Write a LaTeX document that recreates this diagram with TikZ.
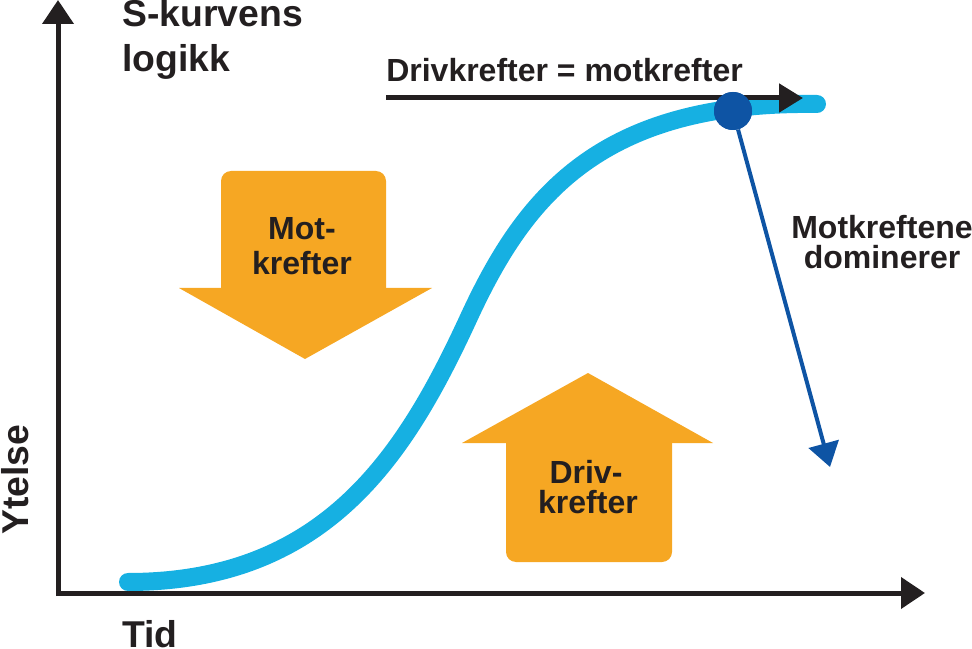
\documentclass[tikz,border=0pt]{standalone}
\usepackage{fontspec}
\setmainfont{Liberation Sans}
\usetikzlibrary{arrows.meta}
\definecolor{ink}{RGB}{35,31,32}
\definecolor{orangec}{RGB}{246,167,35}
\definecolor{curveblue}{RGB}{22,176,226}
\definecolor{dotblue}{RGB}{14,84,164}
\tikzset{
  axisline/.style={draw=ink, line width=3.75pt, -{Triangle[length=18pt,width=23pt]}},
  orangebox/.style={fill=orangec, rounded corners=7.5pt},
  orangehead/.style={fill=orangec},
  scurve/.style={draw=curveblue, line width=13.5pt, line cap=round},
  balance/.style={draw=ink, line width=3.75pt, -{Triangle[length=18pt,width=21pt]}},
  domline/.style={draw=dotblue, line width=3pt, -{Triangle[length=18pt,width=23pt]}},
  bigdot/.style={circle, fill=dotblue, minimum size=28.5pt, inner sep=0pt},
  bigtxt/.style={inner sep=0pt, text=ink, font=\fontsize{28}{34}\selectfont\bfseries},
  midtxt/.style={inner sep=0pt, text=ink, font=\fontsize{24}{26}\selectfont\bfseries}
}
\begin{document}
\begin{tikzpicture}[x=0.75pt, y=-0.75pt]
\useasboundingbox (0,0) rectangle (972,649);
% axes
\coordinate (O) at (58,593);
\coordinate (ytop) at (58,0);
\coordinate (xend) at (925,593);
\coordinate (ybot) at (58,596);
\coordinate (xbeg) at (56,593);
\draw[axisline] (ybot) -- (ytop);
\draw[axisline] (xbeg) -- (xend);
% orange down arrow (Mot-krefter)
\fill[orangebox] (221,171) rectangle (386,300);
\coordinate (dl) at (179,288);
\coordinate (dr) at (432,288);
\coordinate (dt) at (305,359);
\fill[orangehead] (dl) -- (dr) -- (dt) -- cycle;
% orange up arrow (Driv-krefter)
\fill[orangebox] (506,430) rectangle (672,562);
\coordinate (ul) at (462,443);
\coordinate (ur) at (713,443);
\coordinate (ut) at (588,373);
\fill[orangehead] (ul) -- (ur) -- (ut) -- cycle;
% S-curve
\coordinate (c0) at (128,582);
\coordinate (c1) at (470,315);
\coordinate (c2) at (817,104);
\draw[scurve] (c0) .. controls (328,582) and (407,452) .. (c1) .. controls (525,197) and (600,101) .. (c2);
% balance arrow
\coordinate (bstart) at (386,98);
\coordinate (bend) at (803,98);
\draw[balance] (bstart) -- (bend);
% dominance
\node[bigdot] (pt) at (733,111) {};
\coordinate (dend) at (830,467);
\draw[domline] (pt) -- (dend);
\node[bigdot] (pt2) at (pt) {};
% texts
\node[bigtxt, anchor=base west] (t1) at (122,27) {S-kurvens};
\node[bigtxt, anchor=base west] (t2) at (122,72) {logikk};
\node[midtxt, anchor=base west] (bal) at (386,82) {Drivkrefter = motkrefter};
\node[midtxt, anchor=base] (m1) at (302,240) {Mot-};
\node[midtxt, anchor=base] (m2) at (302,275) {krefter};
\node[midtxt, anchor=base] (d1) at (586,483) {Driv-};
\node[midtxt, anchor=base] (d2) at (588,513) {krefter};
\node[midtxt, anchor=base] (k1) at (882,239) {Motkreftene};
\node[midtxt, anchor=base] (k2) at (882,269) {dominerer};
\node[bigtxt, anchor=base west] (tid) at (122,647) {Tid};
\node[bigtxt, anchor=base west, rotate=90] (yt) at (28,535) {Ytelse};
\end{tikzpicture}
\end{document}
